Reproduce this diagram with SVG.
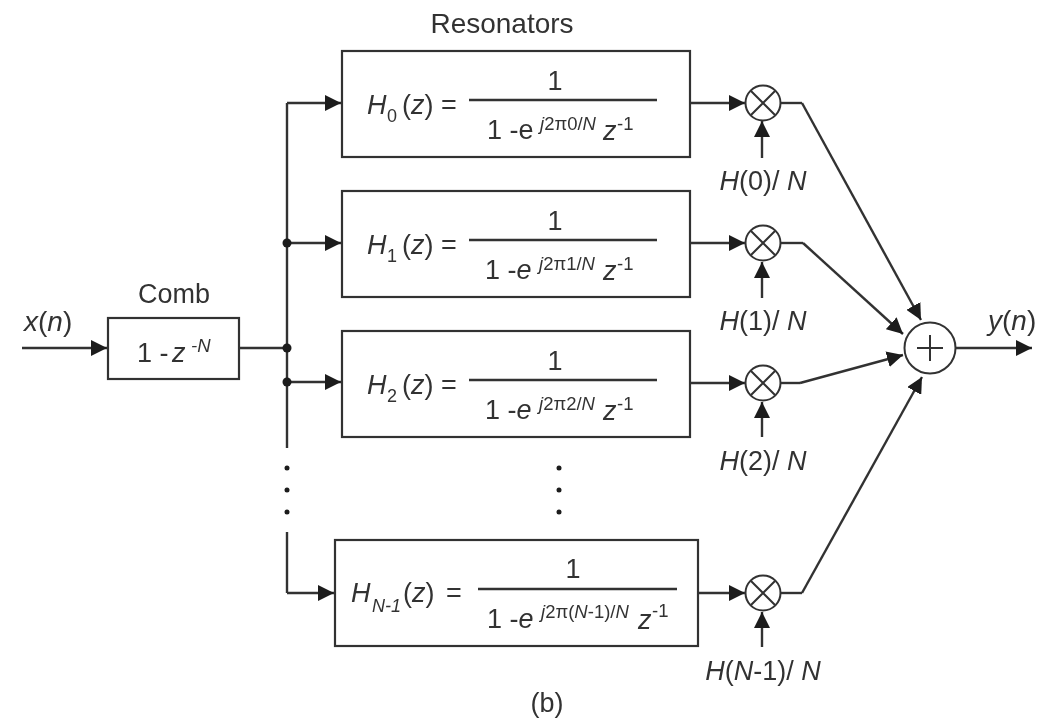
<svg xmlns="http://www.w3.org/2000/svg" width="1046" height="724" viewBox="0 0 1046 724">
<defs>
<marker id="arr" markerUnits="userSpaceOnUse" markerWidth="18" markerHeight="16" refX="16" refY="8" orient="auto"><path d="M0,0 L16,8 L0,16 Z" fill="#1a1a1a"/></marker>
<filter id="soft" x="0" y="0" width="100%" height="100%"><feGaussianBlur stdDeviation="0.5"/></filter>
</defs>
<style>
text{font-family:"Liberation Sans",Arial,sans-serif;font-size:27px;fill:#333}
.i{font-style:italic}
.l{font-size:28px}
.s{font-size:18px}
.t{font-size:18.5px}
.box{fill:#fff;stroke:#333;stroke-width:2.2}
.w{fill:none;stroke:#333;stroke-width:2.4}
.a{fill:none;stroke:#333;stroke-width:2.4;marker-end:url(#arr)}
.c{fill:#fff;stroke:#333;stroke-width:2}
.f{fill:none;stroke:#333;stroke-width:2}
.d{fill:#1a1a1a}
.m{text-anchor:middle}
</style>
<g id="diagram" filter="url(#soft)">
<rect x="0" y="0" width="1046" height="724" fill="#fff"/>
<g id="connectors">
<path class="a" d="M22,348 H107"/>
<path class="w" d="M240,348 H287"/>
<path class="w" d="M287,103 V448"/>
<path class="w" d="M287,532 V593"/>
<path class="a" d="M287,103 H341"/>
<path class="a" d="M287,243 H341"/>
<path class="a" d="M287,382 H341"/>
<path class="a" d="M287,593 H334"/>
<path class="a" d="M691,103 H745"/>
<path class="a" d="M691,243 H745"/>
<path class="a" d="M691,383 H745"/>
<path class="a" d="M699,593 H745"/>
<path class="a" d="M762,158 V121"/>
<path class="a" d="M762,298 V262"/>
<path class="a" d="M762,437 V402"/>
<path class="a" d="M762,647 V612"/>
<path class="w" d="M781,103 H802"/>
<path class="a" d="M802,103 L921,320"/>
<path class="w" d="M781,243 H803"/>
<path class="a" d="M803,243 L903,334"/>
<path class="w" d="M781,383 H800"/>
<path class="a" d="M800,383 L903,355"/>
<path class="w" d="M781,593 H802"/>
<path class="a" d="M802,593 L922,377"/>
<path class="a" d="M956,348 H1032"/>
<circle class="d" cx="287" cy="243" r="4.5"/>
<circle class="d" cx="287" cy="348" r="4.5"/>
<circle class="d" cx="287" cy="382" r="4.5"/>
<circle class="d" cx="287" cy="468" r="2.5"/>
<circle class="d" cx="287" cy="490" r="2.5"/>
<circle class="d" cx="287" cy="512" r="2.5"/>
<circle class="d" cx="559" cy="468" r="2.5"/>
<circle class="d" cx="559" cy="490" r="2.5"/>
<circle class="d" cx="559" cy="512" r="2.5"/>
</g>
<g id="input-label"><text class="l" x="24" y="331"><tspan class="i">x</tspan>(<tspan class="i">n</tspan>)</text></g>
<g id="comb">
<text class="m" x="174" y="303">Comb</text>
<rect class="box" x="108" y="318" width="131" height="61"/>
<text x="137" y="362">1 -</text>
<text class="i" x="172" y="362">z</text>
<text class="i t" x="191" y="352">-N</text>
</g>
<g id="resonators-label"><text class="m l" x="502" y="33">Resonators</text></g>
<g id="h0">
<rect class="box" x="342" y="51" width="348" height="106"/>
<text class="i" x="367" y="114">H</text>
<text class="s" x="387" y="122">0</text>
<text x="402" y="114">(<tspan class="i">z</tspan>)</text>
<text x="441" y="114">=</text>
<path class="w" d="M469,100 H657"/>
<text class="m" x="555" y="90">1</text>
<text x="487" y="139">1 -e</text>
<text class="t" x="540" y="130"><tspan class="i">j</tspan>2π0/<tspan class="i">N</tspan></text>
<text x="603" y="140" class="i">z</text>
<text class="t" x="617" y="130">-1</text>
</g>
<g id="h1">
<rect class="box" x="342" y="191" width="348" height="106"/>
<text class="i" x="367" y="254">H</text>
<text class="s" x="387" y="262">1</text>
<text x="402" y="254">(<tspan class="i">z</tspan>)</text>
<text x="441" y="254">=</text>
<path class="w" d="M469,240 H657"/>
<text class="m" x="555" y="230">1</text>
<text x="485" y="279">1 -<tspan class="i">e</tspan></text>
<text class="t" x="539" y="270"><tspan class="i">j</tspan>2π1/<tspan class="i">N</tspan></text>
<text x="603" y="280" class="i">z</text>
<text class="t" x="617" y="270">-1</text>
</g>
<g id="h2">
<rect class="box" x="342" y="331" width="348" height="106"/>
<text class="i" x="367" y="394">H</text>
<text class="s" x="387" y="402">2</text>
<text x="402" y="394">(<tspan class="i">z</tspan>)</text>
<text x="441" y="394">=</text>
<path class="w" d="M469,380 H657"/>
<text class="m" x="555" y="370">1</text>
<text x="485" y="419">1 -<tspan class="i">e</tspan></text>
<text class="t" x="539" y="410"><tspan class="i">j</tspan>2π2/<tspan class="i">N</tspan></text>
<text x="603" y="420" class="i">z</text>
<text class="t" x="617" y="410">-1</text>
</g>
<g id="hn1">
<rect class="box" x="335" y="540" width="363" height="106"/>
<text class="i" x="351" y="602">H</text>
<text class="i s" x="372" y="612">N-1</text>
<text x="403" y="602">(<tspan class="i">z</tspan>)</text>
<text x="446" y="602">=</text>
<path class="w" d="M478,589 H677"/>
<text class="m" x="573" y="578">1</text>
<text x="487" y="628">1 -<tspan class="i">e</tspan></text>
<text class="t" x="541" y="618"><tspan class="i">j</tspan>2π(<tspan class="i">N</tspan>-1)/<tspan class="i">N</tspan></text>
<text x="638" y="629" class="i">z</text>
<text class="t" x="652" y="617">-1</text>
</g>
<g id="mult0"><circle class="c" cx="763" cy="103" r="17.5"/><path class="f" d="M751,91 L775,115 M775,91 L751,115"/></g>
<g id="mult1"><circle class="c" cx="763" cy="243" r="17.5"/><path class="f" d="M751,231 L775,255 M775,231 L751,255"/></g>
<g id="mult2"><circle class="c" cx="763" cy="383" r="17.5"/><path class="f" d="M751,371 L775,395 M775,371 L751,395"/></g>
<g id="mult3"><circle class="c" cx="763" cy="593" r="17.5"/><path class="f" d="M751,581 L775,605 M775,581 L751,605"/></g>
<g id="coef0"><text class="m" x="763" y="190"><tspan class="i">H</tspan>(0)/ <tspan class="i">N</tspan></text></g>
<g id="coef1"><text class="m" x="763" y="330"><tspan class="i">H</tspan>(1)/ <tspan class="i">N</tspan></text></g>
<g id="coef2"><text class="m" x="763" y="470"><tspan class="i">H</tspan>(2)/ <tspan class="i">N</tspan></text></g>
<g id="coef3"><text class="m" x="763" y="680"><tspan class="i">H</tspan>(<tspan class="i">N</tspan>-1)/ <tspan class="i">N</tspan></text></g>
<g id="sum"><circle class="c" cx="930" cy="348" r="25.5"/><path class="f" d="M917,348 H943 M930,335 V361"/></g>
<g id="output-label"><text class="l" x="988" y="330"><tspan class="i">y</tspan>(<tspan class="i">n</tspan>)</text></g>
<g id="caption"><text class="m" x="547" y="712">(b)</text></g>
</g>
</svg>
